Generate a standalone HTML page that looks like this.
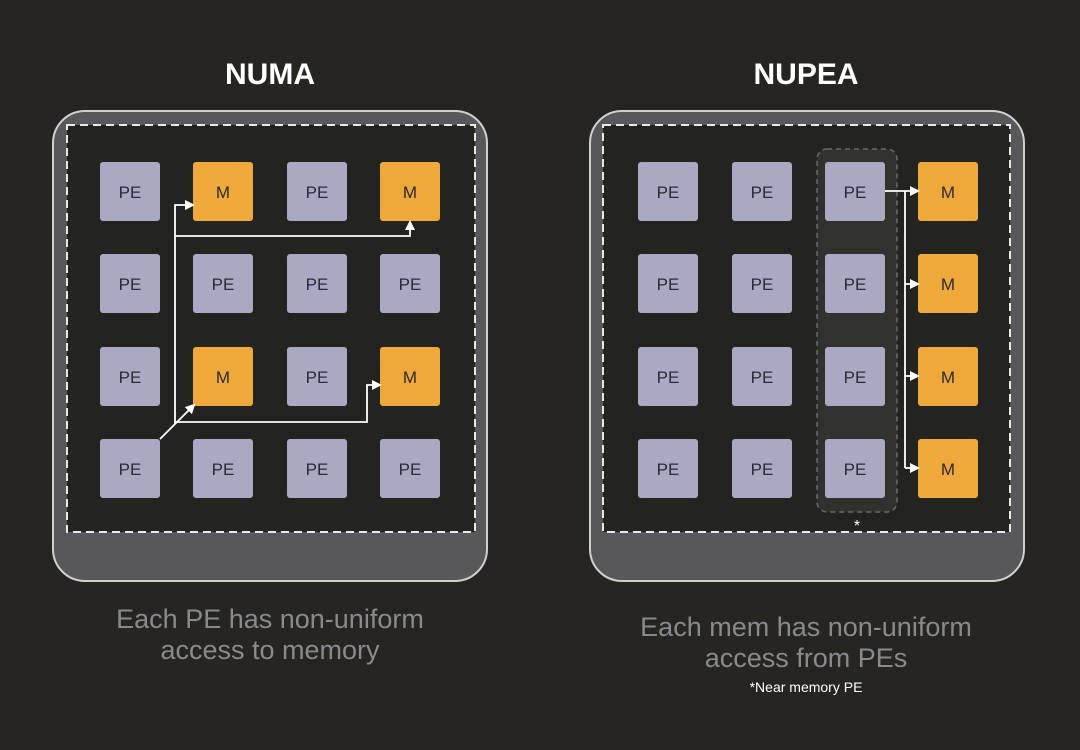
<!DOCTYPE html>
<html><head><style>
body{margin:0;width:1080px;height:745px;background:#262522;overflow:hidden;font-family:"Liberation Sans",sans-serif}
</style></head><body>
<svg width="1080" height="745" xmlns="http://www.w3.org/2000/svg" font-family="Liberation Sans, sans-serif">
<defs>
<marker id="a" markerWidth="10" markerHeight="10" refX="8" refY="5" orient="auto" markerUnits="userSpaceOnUse"><path d="M0,0 L10,5 L0,10 z" fill="#fff"/></marker>
</defs>
<text x="270" y="84" text-anchor="middle" fill="#fff" font-size="30" font-weight="bold">NUMA</text>
<text x="806" y="84" text-anchor="middle" fill="#fff" font-size="30" font-weight="bold">NUPEA</text>
<g>
<rect x="53" y="111" width="434" height="470" rx="32" fill="#58585b" stroke="#d0d0d0" stroke-width="2"/>
<rect x="67" y="125" width="408" height="407" fill="#232320"/>
<rect x="67" y="125" width="408" height="407" fill="none" stroke="#e8e8e8" stroke-width="2" stroke-dasharray="8,5"/>
<rect x="590" y="111" width="434" height="470" rx="32" fill="#58585b" stroke="#d0d0d0" stroke-width="2"/>
<rect x="603" y="125" width="407" height="407" fill="#232320"/>
<rect x="603" y="125" width="407" height="407" fill="none" stroke="#e8e8e8" stroke-width="2" stroke-dasharray="8,5"/>
<rect x="817" y="149" width="80" height="363" rx="10" fill="#31312e" stroke="#6a6a6a" stroke-width="1.5" stroke-dasharray="5,4"/>
</g>
<g font-size="17" text-anchor="middle" fill="#2a2a38">
<rect x="100" y="162" width="60" height="59" rx="3" fill="#a9a9c3"/><text x="130" y="198">PE</text>
<rect x="193" y="162" width="60" height="59" rx="3" fill="#eea93a"/><text x="223" y="198">M</text>
<rect x="287" y="162" width="60" height="59" rx="3" fill="#a9a9c3"/><text x="317" y="198">PE</text>
<rect x="380" y="162" width="60" height="59" rx="3" fill="#eea93a"/><text x="410" y="198">M</text>
<rect x="100" y="254" width="60" height="59" rx="3" fill="#a9a9c3"/><text x="130" y="290">PE</text>
<rect x="193" y="254" width="60" height="59" rx="3" fill="#a9a9c3"/><text x="223" y="290">PE</text>
<rect x="287" y="254" width="60" height="59" rx="3" fill="#a9a9c3"/><text x="317" y="290">PE</text>
<rect x="380" y="254" width="60" height="59" rx="3" fill="#a9a9c3"/><text x="410" y="290">PE</text>
<rect x="100" y="347" width="60" height="59" rx="3" fill="#a9a9c3"/><text x="130" y="383">PE</text>
<rect x="193" y="347" width="60" height="59" rx="3" fill="#eea93a"/><text x="223" y="383">M</text>
<rect x="287" y="347" width="60" height="59" rx="3" fill="#a9a9c3"/><text x="317" y="383">PE</text>
<rect x="380" y="347" width="60" height="59" rx="3" fill="#eea93a"/><text x="410" y="383">M</text>
<rect x="100" y="439" width="60" height="59" rx="3" fill="#a9a9c3"/><text x="130" y="475">PE</text>
<rect x="193" y="439" width="60" height="59" rx="3" fill="#a9a9c3"/><text x="223" y="475">PE</text>
<rect x="287" y="439" width="60" height="59" rx="3" fill="#a9a9c3"/><text x="317" y="475">PE</text>
<rect x="380" y="439" width="60" height="59" rx="3" fill="#a9a9c3"/><text x="410" y="475">PE</text>
<rect x="638" y="162" width="60" height="59" rx="3" fill="#a9a9c3"/><text x="668" y="198">PE</text>
<rect x="732" y="162" width="60" height="59" rx="3" fill="#a9a9c3"/><text x="762" y="198">PE</text>
<rect x="825" y="162" width="60" height="59" rx="3" fill="#a9a9c3"/><text x="855" y="198">PE</text>
<rect x="918" y="162" width="60" height="59" rx="3" fill="#eea93a"/><text x="948" y="198">M</text>
<rect x="638" y="254" width="60" height="59" rx="3" fill="#a9a9c3"/><text x="668" y="290">PE</text>
<rect x="732" y="254" width="60" height="59" rx="3" fill="#a9a9c3"/><text x="762" y="290">PE</text>
<rect x="825" y="254" width="60" height="59" rx="3" fill="#a9a9c3"/><text x="855" y="290">PE</text>
<rect x="918" y="254" width="60" height="59" rx="3" fill="#eea93a"/><text x="948" y="290">M</text>
<rect x="638" y="347" width="60" height="59" rx="3" fill="#a9a9c3"/><text x="668" y="383">PE</text>
<rect x="732" y="347" width="60" height="59" rx="3" fill="#a9a9c3"/><text x="762" y="383">PE</text>
<rect x="825" y="347" width="60" height="59" rx="3" fill="#a9a9c3"/><text x="855" y="383">PE</text>
<rect x="918" y="347" width="60" height="59" rx="3" fill="#eea93a"/><text x="948" y="383">M</text>
<rect x="638" y="439" width="60" height="59" rx="3" fill="#a9a9c3"/><text x="668" y="475">PE</text>
<rect x="732" y="439" width="60" height="59" rx="3" fill="#a9a9c3"/><text x="762" y="475">PE</text>
<rect x="825" y="439" width="60" height="59" rx="3" fill="#a9a9c3"/><text x="855" y="475">PE</text>
<rect x="918" y="439" width="60" height="59" rx="3" fill="#eea93a"/><text x="948" y="475">M</text>
</g>
<g stroke="#fff" stroke-width="1.8" fill="none">
<path d="M160,439 L194,405" marker-end="url(#a)"/>
<path d="M175,424 L175,205 L193,205" marker-end="url(#a)"/>
<path d="M175,236 L410,236 L410,222" marker-end="url(#a)"/>
<path d="M175,422 L367,422 L367,385 L380,385" marker-end="url(#a)"/>
<path d="M885,191 L918,191" marker-end="url(#a)"/>
<path d="M905,191 L905,468"/>
<path d="M905,284 L918,284" marker-end="url(#a)"/>
<path d="M905,376 L918,376" marker-end="url(#a)"/>
<path d="M905,468 L918,468" marker-end="url(#a)"/>
</g>
<text x="857" y="531" text-anchor="middle" fill="#fff" font-size="16">*</text>
<g fill="#8a8a8c" font-size="27" text-anchor="middle">
<text x="270" y="628">Each PE has non-uniform</text>
<text x="270" y="659">access to memory</text>
<text x="806" y="636">Each mem has non-uniform</text>
<text x="806" y="667">access from PEs</text>
</g>
<text x="806" y="692" text-anchor="middle" fill="#fff" font-size="14">*Near memory PE</text>
</svg>
</body></html>
